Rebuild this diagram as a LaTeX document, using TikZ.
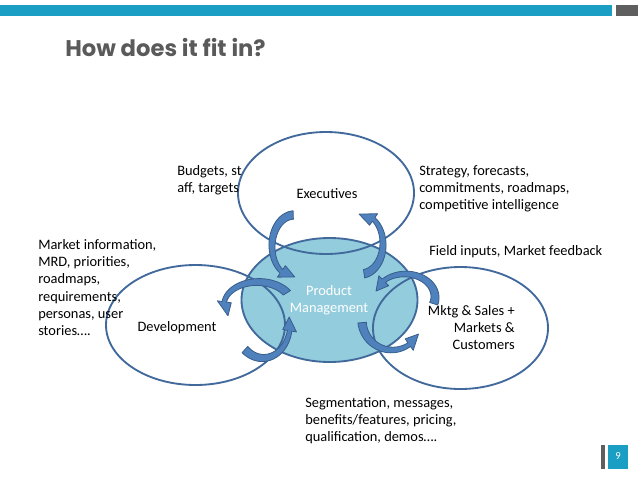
\documentclass[tikz,border=0pt]{standalone}
\usepackage{fontspec}
\setmainfont{Carlito}
\newfontfamily\titlefont{Poppins}
\definecolor{barteal}{HTML}{1B9EC4}
\definecolor{bargray}{HTML}{5F5F5F}
\definecolor{titlegray}{HTML}{5A5A5A}
\definecolor{ellline}{HTML}{41699B}
\definecolor{pmfill}{HTML}{93CDDD}
\definecolor{arrowfill}{HTML}{4F81BD}
\definecolor{arrowline}{HTML}{385D8A}
\def\hh{7}
\newcommand{\carrow}[9]{%
  \filldraw[arrowsty]
    plot[domain=#5:#6,samples=30,variable=\t] ({#1+(#3+((#8)+((#9)-(#8))*(\t-(#5))/((#6)-(#5)))/2)*cos(\t)},{#2+(#4+((#8)+((#9)-(#8))*(\t-(#5))/((#6)-(#5)))/2)*sin(\t)})%
    -- ({#1+(#3+\hh)*cos(#6)},{#2+(#4+\hh)*sin(#6)})%
    -- ({#1+#3*cos(#7)},{#2+#4*sin(#7)})%
    -- ({#1+(#3-\hh)*cos(#6)},{#2+(#4-\hh)*sin(#6)})%
    -- plot[domain=#6:#5,samples=30,variable=\t] ({#1+(#3-((#8)+((#9)-(#8))*(\t-(#5))/((#6)-(#5)))/2)*cos(\t)},{#2+(#4-((#8)+((#9)-(#8))*(\t-(#5))/((#6)-(#5)))/2)*sin(\t)})%
    -- cycle;}
\begin{document}
\begin{tikzpicture}[x=0.75pt,y=-0.75pt,
  ell/.style={draw=ellline,line width=1.4pt},
  arrowsty/.style={fill=arrowfill,draw=arrowline,line width=0.6pt,line join=round},
  lbl/.style={inner sep=0pt,font=\fontsize{10.8pt}{13pt}\selectfont,align=left}]
\path[use as bounding box] (0,0) rectangle (638,479);
% top bar
\fill[barteal] (0,5) rectangle (612,16);
\fill[bargray] (616,5) rectangle (638,16);
\node[anchor=west,inner sep=0pt,text=titlegray,font=\titlefont\bfseries\fontsize{17pt}{20pt}\selectfont] (title) at (65,48) {How does it fit in?};
% ellipses
\draw[ell,fill=pmfill] (329.5,300) ellipse [x radius=88,y radius=62];
\node (pm) at (329.5,300) {};
\draw[ell] (326,193) ellipse [x radius=88,y radius=61];
\node (exec) at (326,193) {};
\draw[ell] (195.5,325) ellipse [x radius=89.5,y radius=60];
\node (dev) at (195.5,325) {};
\draw[ell] (460.5,328) ellipse [x radius=87.5,y radius=61];
\node (mktg) at (460.5,328) {};
% labels
\node[lbl] (exectxt) at (327,194) {Executives};
\node[lbl] (devtxt) at (177,328) {Development};
\node[lbl,align=center,text=white] (pmtxt) at (329,300) {Product\\Management};
\node[lbl,anchor=north east,align=right] (mktgtxt) at (515,305) {Mktg \& Sales +\\Markets \&\\Customers};
\node[lbl,anchor=north west] (budg) at (177,165) {Budgets, st\\aff, targets};
\node[lbl,anchor=north west] (strat) at (419,165) {Strategy, forecasts,\\commitments, roadmaps,\\competitive intelligence};
\node[lbl,anchor=north west] (mkt) at (38,239) {Market information,\\MRD, priorities,\\roadmaps,\\requirements,\\personas, user\\stories….};
\node[lbl,anchor=north west] (field) at (429,245) {Field inputs, Market feedback};
\node[lbl,anchor=north west] (seg) at (305,397) {Segmentation, messages,\\benefits/features, pricing,\\qualification, demos….};
% curved arrows
\carrow{294}{246}{22}{31}{-92}{-235}{-272}{8.5}{4.5}
\carrow{361}{244}{22}{30}{82}{-55}{-95}{8.5}{4.5}
\carrow{258}{305}{34}{23}{-32}{-172}{-208}{8.5}{4.5}
\carrow{263}{325}{27}{33}{132}{10}{-14}{8.5}{4.5}
\carrow{405}{297}{30}{23}{17}{-135}{-165}{8.5}{4.5}
\carrow{392}{320}{30}{30}{175}{55}{28}{8.5}{4.5}
% page number
\fill[bargray] (600.5,445) rectangle (605,469);
\fill[barteal] (608,445) rectangle (628,469);
\node[inner sep=0pt,text=white,font=\fontsize{8pt}{9pt}\selectfont] (pg) at (618,456) {9};
\end{tikzpicture}
\end{document}
